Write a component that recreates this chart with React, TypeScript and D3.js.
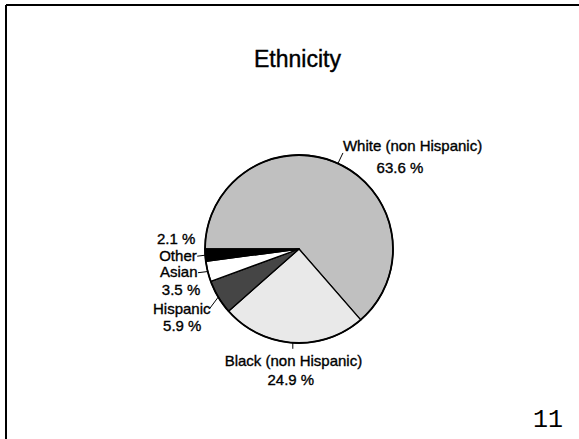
import React from "react";
import * as d3 from "d3";

const categories = ["White (non Hispanic)", "Black (non Hispanic)", "Hispanic", "Asian", "Other"];
const values = [63.6, 24.9, 5.9, 3.5, 2.1];
const valueLabels = ["63.6 %", "24.9 %", "5.9 %", "3.5 %", "2.1 %"];
const title = "Ethnicity";
const pageNumber = "11";

const fills = ["#c0c0c0", "#e9e9e9", "#454545", "#ffffff", "#000000"];

// label layout: leader offset from the slice's outer point, and line offsets from leader end
const labelLayout = [
  { leader: [5, -10.5], name: [0, -2, "start"], value: [57, 20] },
  { leader: [0, 6], name: [0.6, 17, "middle"], value: [-2, 36] },
  { leader: [-9, 12], name: [-27.5, 5, "middle"], value: [-27, 22] },
  { leader: [-9.7, 1.2], name: [-0.5, 4.5, "end"], value: [-17, 22.5] },
  { leader: [-8, 1], name: [-0.5, 5, "end"], value: [-21, -12] },
];

const W = 579;
const H = 439;
const cx = 299;
const cy = 249;
const R = 94;

export default function App() {
  const data = categories.map((c, i) => ({ c, v: values[i], i }));
  const pie = d3
    .pie<any>()
    .sort(null)
    .value((d) => d.v)
    .startAngle(-Math.PI / 2)
    .endAngle((3 * Math.PI) / 2);
  const arcs = pie(data);
  const arc = d3.arc<any>().innerRadius(0).outerRadius(R);
  const edge = d3.arc<any>().innerRadius(R).outerRadius(R);
  const font = "Arial, 'Liberation Sans', Helvetica, sans-serif";

  return (
    <svg
      width={W}
      height={H}
      style={{ position: "absolute", left: 0, top: 0, background: "#fff" }}
    >
      <rect x={0} y={0} width={W} height={H} fill="#fff" />
      <line x1={6} y1={5} x2={W} y2={5} stroke="#000" strokeWidth={2} />
      <line x1={6} y1={5} x2={6} y2={H} stroke="#000" strokeWidth={2} />
      <text x={297.5} y={67} textAnchor="middle" fontFamily={font} fontSize={23} fill="#000" stroke="#000" strokeWidth={0.4}>
        {title}
      </text>
      <g transform={`translate(${cx},${cy})`}>
        {arcs.map((a, i) => (
          <path key={i} d={arc(a) as string} fill={fills[i]} stroke="#000" strokeWidth={1.3} strokeLinejoin="round" />
        ))}
        <circle r={R} fill="none" stroke="#000" strokeWidth={1.8} />
        {arcs.map((a, i) => {
          const [px, py] = edge.centroid(a);
          const L = labelLayout[i];
          const lx = px + L.leader[0];
          const ly = py + L.leader[1];
          return (
            <g key={"l" + i} fontFamily={font} fontSize={15} fill="#000" stroke="#000" strokeWidth={0.35}>
              <line x1={px} y1={py} x2={lx} y2={ly} stroke="#000" strokeWidth={1} />
              <text x={lx + (L.name[0] as number)} y={ly + (L.name[1] as number)} textAnchor={L.name[2] as any}>
                {categories[i]}
              </text>
              <text x={lx + L.value[0]} y={ly + L.value[1]} textAnchor="middle">
                {valueLabels[i]}
              </text>
            </g>
          );
        })}
      </g>
      <text x={533} y={427} fontFamily="'Courier New', 'Liberation Mono', monospace" fontSize={25} fill="#000">
        {pageNumber}
      </text>
    </svg>
  );
}
